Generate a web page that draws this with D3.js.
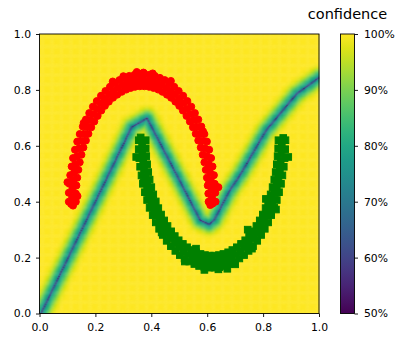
<!DOCTYPE html>
<html>
<head>
<meta charset="utf-8">
<script src="https://cdn.jsdelivr.net/npm/d3@7"></script>
<style>
  body { margin: 0; background: #fff; }
  svg { display: block; }
  text { font-family: "DejaVu Sans", sans-serif; }
</style>
</head>
<body>
<div class="container"></div>
<script>
const xTicks = [0, 0.2, 0.4, 0.6, 0.8, 1.0];
const yTicks = [0, 0.2, 0.4, 0.6, 0.8, 1.0];
const cbTicks = [0.5, 0.6, 0.7, 0.8, 0.9, 1.0];
const cbTitle = "confidence";

// decision boundary (where confidence is lowest)
const boundary = [
  [0.005, 0.0], [0.33, 0.668], [0.385, 0.700], [0.50, 0.48], [0.575, 0.335],
  [0.607, 0.320], [0.625, 0.335], [0.68, 0.44], [0.72, 0.50], [0.81, 0.655],
  [0.92, 0.787], [1.0, 0.845]
];

// class 0 (red circles), upper moon
const redMoon = [
  [0.630,0.400],[0.629,0.432],[0.627,0.464],[0.624,0.495],[0.619,0.526],[0.614,0.556],[0.607,0.586],[0.599,0.615],
  [0.590,0.642],[0.579,0.669],[0.568,0.694],[0.556,0.717],[0.543,0.740],[0.529,0.760],[0.514,0.779],[0.498,0.796],
  [0.482,0.811],[0.465,0.824],[0.448,0.835],[0.431,0.843],[0.413,0.850],[0.394,0.854],[0.376,0.857],
  [0.358,0.857],[0.340,0.854],[0.321,0.850],[0.304,0.843],[0.286,0.835],[0.269,0.824],[0.252,0.811],[0.236,0.796],
  [0.220,0.779],[0.205,0.760],[0.191,0.740],[0.178,0.717],[0.166,0.694],[0.155,0.669],[0.144,0.642],[0.135,0.615],
  [0.127,0.586],[0.120,0.556],[0.115,0.526],[0.110,0.495],[0.107,0.464],[0.105,0.432],[0.105,0.400],
  [0.605,0.400],[0.604,0.429],[0.602,0.458],[0.599,0.486],[0.595,0.514],[0.590,0.541],[0.584,0.568],[0.577,0.594],
  [0.568,0.619],[0.559,0.643],[0.549,0.666],[0.538,0.687],[0.526,0.707],[0.513,0.726],[0.500,0.743],[0.486,0.758],
  [0.471,0.772],[0.456,0.783],[0.440,0.793],[0.425,0.801],[0.408,0.807],[0.392,0.811],[0.375,0.813],
  [0.359,0.813],[0.342,0.811],[0.326,0.807],[0.310,0.801],[0.294,0.793],[0.278,0.783],[0.263,0.772],[0.248,0.758],
  [0.234,0.743],[0.221,0.726],[0.208,0.707],[0.196,0.687],[0.185,0.666],[0.175,0.643],[0.166,0.619],[0.157,0.594],
  [0.150,0.568],[0.144,0.541],[0.139,0.514],[0.135,0.486],[0.132,0.458],[0.130,0.429],[0.130,0.400],
  [0.617,0.415],[0.616,0.446],[0.613,0.476],[0.610,0.505],[0.605,0.534],[0.599,0.563],[0.592,0.591],[0.584,0.618],
  [0.574,0.643],[0.564,0.668],[0.553,0.691],[0.541,0.713],[0.528,0.733],[0.514,0.752],[0.500,0.769],[0.484,0.784],
  [0.469,0.797],[0.453,0.809],[0.436,0.818],[0.419,0.826],[0.402,0.831],[0.385,0.834],[0.367,0.835],
  [0.349,0.834],[0.332,0.831],[0.315,0.826],[0.298,0.818],[0.281,0.809],[0.265,0.797],[0.250,0.784],[0.234,0.769],
  [0.220,0.752],[0.206,0.733],[0.193,0.713],[0.181,0.691],[0.170,0.668],[0.160,0.643],[0.150,0.618],[0.142,0.591],
  [0.135,0.563],[0.129,0.534],[0.124,0.505],[0.121,0.476],[0.118,0.446],[0.117,0.415],
  [0.120,0.386],[0.113,0.392],[0.611,0.388],[0.619,0.393],[0.372,0.862],[0.405,0.859],[0.300,0.849],[0.640,0.452],
  [0.348,0.864],[0.262,0.830],[0.470,0.832],[0.158,0.682],[0.585,0.652],[0.100,0.470],[0.136,0.420],[0.607,0.470]
];

// class 1 (green squares), lower moon
const greenMoon = [
  [0.355,0.620],[0.355,0.588],[0.357,0.556],[0.360,0.525],[0.365,0.494],[0.370,0.464],[0.377,0.434],[0.385,0.406],
  [0.394,0.378],[0.405,0.352],[0.416,0.326],[0.428,0.303],[0.441,0.281],[0.455,0.260],[0.470,0.241],[0.486,0.224],
  [0.502,0.209],[0.519,0.197],[0.536,0.186],[0.554,0.177],[0.571,0.170],[0.590,0.166],[0.608,0.164],
  [0.626,0.164],[0.644,0.166],[0.663,0.170],[0.680,0.177],[0.698,0.186],[0.715,0.197],[0.732,0.209],[0.748,0.224],
  [0.764,0.241],[0.779,0.260],[0.793,0.281],[0.806,0.303],[0.818,0.326],[0.829,0.352],[0.840,0.378],[0.849,0.406],
  [0.857,0.434],[0.864,0.464],[0.869,0.494],[0.874,0.525],[0.877,0.556],[0.879,0.588],[0.880,0.620],
  [0.380,0.620],[0.380,0.591],[0.382,0.563],[0.385,0.534],[0.389,0.506],[0.394,0.479],[0.400,0.452],[0.407,0.426],
  [0.416,0.401],[0.425,0.377],[0.435,0.354],[0.446,0.333],[0.458,0.313],[0.471,0.294],[0.484,0.277],[0.498,0.262],
  [0.513,0.249],[0.528,0.237],[0.544,0.227],[0.560,0.219],[0.576,0.213],[0.592,0.209],[0.609,0.207],
  [0.625,0.207],[0.642,0.209],[0.658,0.213],[0.675,0.219],[0.690,0.227],[0.706,0.237],[0.721,0.249],[0.736,0.262],
  [0.750,0.277],[0.763,0.294],[0.776,0.313],[0.788,0.333],[0.799,0.354],[0.809,0.377],[0.818,0.401],[0.827,0.426],
  [0.834,0.452],[0.840,0.479],[0.845,0.506],[0.849,0.534],[0.852,0.563],[0.854,0.591],[0.855,0.620],
  [0.367,0.605],[0.368,0.575],[0.371,0.545],[0.374,0.515],[0.379,0.486],[0.385,0.457],[0.392,0.429],[0.401,0.403],
  [0.410,0.377],[0.420,0.352],[0.431,0.329],[0.443,0.307],[0.456,0.287],[0.470,0.268],[0.485,0.251],[0.500,0.236],
  [0.515,0.223],[0.532,0.211],[0.548,0.202],[0.565,0.195],[0.582,0.189],[0.600,0.186],[0.617,0.185],
  [0.635,0.186],[0.652,0.189],[0.669,0.195],[0.686,0.202],[0.703,0.211],[0.719,0.223],[0.734,0.236],[0.749,0.251],
  [0.764,0.268],[0.778,0.287],[0.791,0.307],[0.803,0.329],[0.814,0.352],[0.824,0.377],[0.833,0.403],[0.842,0.429],
  [0.849,0.457],[0.855,0.486],[0.860,0.515],[0.863,0.545],[0.866,0.575],[0.867,0.605],
  [0.362,0.630],[0.872,0.628],[0.590,0.156],[0.640,0.158],[0.700,0.176],[0.760,0.232],[0.846,0.372],[0.372,0.470],
  [0.520,0.186],[0.672,0.160],[0.437,0.290],[0.890,0.560],[0.810,0.410],[0.346,0.560],[0.560,0.232],[0.745,0.300]
];

const width = 402, height = 340;
const plot = { left: 39.5, top: 34, right: 319, bottom: 313.5 };
const cb = { left: 340.5, right: 354.5 };

const svg = d3.select(".container").append("svg")
  .attr("width", width)
  .attr("height", height);

const x = d3.scaleLinear().domain([0, 1]).range([plot.left, plot.right]);
const y = d3.scaleLinear().domain([0, 1]).range([plot.bottom, plot.top]);
const color = d3.scaleSequential(d3.interpolateViridis).domain([0.5, 1]);

// distance from a point to the boundary polyline
function distToBoundary(px, py) {
  let best = Infinity;
  for (let i = 0; i < boundary.length - 1; i++) {
    const [ax, ay] = boundary[i], [bx, by] = boundary[i + 1];
    const dx = bx - ax, dy = by - ay;
    let t = ((px - ax) * dx + (py - ay) * dy) / (dx * dx + dy * dy);
    t = Math.max(0, Math.min(1, t));
    const ex = ax + t * dx - px, ey = ay + t * dy - py;
    best = Math.min(best, Math.sqrt(ex * ex + ey * ey));
  }
  return best;
}

// sharp dip right on the boundary, softer shoulder around it
function confidence(d) {
  return 1 - 0.26 * Math.exp(-d / 0.0025) - 0.22 * Math.exp(-(d / 0.026) * (d / 0.026));
}

// confidence heatmap on a canvas, then put into the svg as an image
const n = 250;
const pw = Math.ceil(plot.right - plot.left), ph = Math.ceil(plot.bottom - plot.top);
const canvas = document.createElement("canvas");
canvas.width = pw; canvas.height = ph;
const ctx = canvas.getContext("2d");
const cx = d3.scaleLinear().domain([0, 1]).range([0, plot.right - plot.left]);
const cy = d3.scaleLinear().domain([0, 1]).range([plot.bottom - plot.top, 0]);
for (let i = 0; i < n; i++) {
  for (let j = 0; j < n; j++) {
    const conf = confidence(distToBoundary((i + 0.5) / n, (j + 0.5) / n));
    ctx.fillStyle = color(conf);
    const x0 = cx(i / n), x1 = cx((i + 1) / n);
    const y0 = cy((j + 1) / n), y1 = cy(j / n);
    ctx.fillRect(x0, y0, x1 - x0 + 0.4, y1 - y0 + 0.4);
  }
}
svg.append("image")
  .attr("x", plot.left)
  .attr("y", plot.top)
  .attr("width", pw)
  .attr("height", ph)
  .attr("preserveAspectRatio", "none")
  .attr("href", canvas.toDataURL());

// scatter
svg.append("g")
  .selectAll("circle")
  .data(redMoon)
  .enter()
  .append("circle")
  .attr("cx", d => x(d[0]))
  .attr("cy", d => y(d[1]))
  .attr("r", 3.5)
  .attr("fill", "#ff0000")
  .attr("stroke", "#ff0000")
  .attr("stroke-width", 1);

svg.append("g")
  .selectAll("rect")
  .data(greenMoon)
  .enter()
  .append("rect")
  .attr("x", d => x(d[0]) - 3.3)
  .attr("y", d => y(d[1]) - 3.3)
  .attr("width", 6.6)
  .attr("height", 6.6)
  .attr("fill", "#008000")
  .attr("stroke", "#008000")
  .attr("stroke-width", 1);

// frame
svg.append("rect")
  .attr("x", plot.left)
  .attr("y", plot.top)
  .attr("width", plot.right - plot.left)
  .attr("height", plot.bottom - plot.top)
  .attr("fill", "none")
  .attr("stroke", "#000")
  .attr("stroke-width", 0.9);

const fmt = d3.format(".1f");
const gx = svg.append("g")
  .attr("transform", `translate(0,${plot.bottom})`)
  .call(d3.axisBottom(x).tickValues(xTicks).tickFormat(fmt).tickSize(3.5).tickPadding(6.5));
const gy = svg.append("g")
  .attr("transform", `translate(${plot.left},0)`)
  .call(d3.axisLeft(y).tickValues(yTicks).tickFormat(fmt).tickSize(3.5).tickPadding(5));

// colorbar
const cbY = d3.scaleLinear().domain([0.5, 1]).range([plot.bottom, plot.top]);
const grad = svg.append("defs").append("linearGradient")
  .attr("id", "cbgrad")
  .attr("x1", 0).attr("y1", 1).attr("x2", 0).attr("y2", 0);
grad.selectAll("stop")
  .data(d3.range(0, 1.0001, 0.05))
  .enter()
  .append("stop")
  .attr("offset", d => d)
  .attr("stop-color", d => d3.interpolateViridis(d));

svg.append("rect")
  .attr("x", cb.left)
  .attr("y", plot.top)
  .attr("width", cb.right - cb.left)
  .attr("height", plot.bottom - plot.top)
  .attr("fill", "url(#cbgrad)")
  .attr("stroke", "#000")
  .attr("stroke-width", 0.9);

const gc = svg.append("g")
  .attr("transform", `translate(${cb.right},0)`)
  .call(d3.axisRight(cbY).tickValues(cbTicks).tickFormat(d3.format(".0%")).tickSize(3.5).tickPadding(6));

[gx, gy, gc].forEach(g => {
  g.select(".domain").remove();
  g.selectAll("line").attr("stroke", "#000").attr("stroke-width", 0.9);
  g.selectAll("text")
    .attr("fill", "#000")
    .style("font-family", "'DejaVu Sans', sans-serif")
    .style("font-size", "10.8px");
});

svg.append("text")
  .attr("x", (cb.left + cb.right) / 2)
  .attr("y", 19)
  .attr("text-anchor", "middle")
  .attr("fill", "#000")
  .style("font-size", "14.5px")
  .text(cbTitle);
</script>
</body>
</html>
